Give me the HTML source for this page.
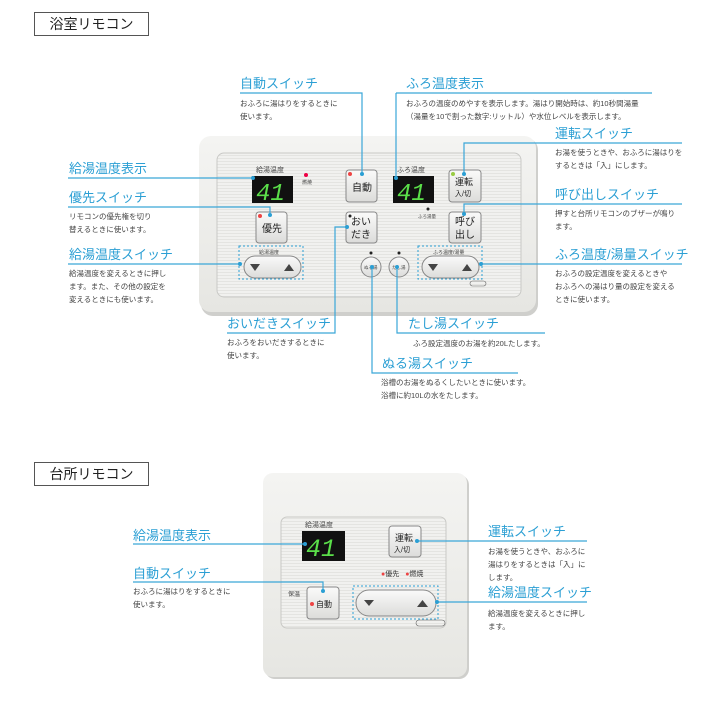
<!DOCTYPE html>
<html><head><meta charset="utf-8"><style>
body{margin:0;width:716px;height:706px;background:#fff;position:relative;overflow:hidden;font-family:"Liberation Sans","Noto Sans CJK JP",sans-serif;}
.t{position:absolute;white-space:nowrap;color:#2b9fd4;font-size:13px;line-height:14px;}
.d{position:absolute;white-space:nowrap;color:#444;font-size:7.5px;line-height:13px;}
.hb{position:absolute;border:1px solid #555;font-size:14px;line-height:22px;text-align:center;color:#222;}
</style></head><body>
<div class="hb" style="left:34px;top:12px;width:113px;height:22px;">浴室リモコン</div>
<div class="hb" style="left:34px;top:462px;width:113px;height:22px;">台所リモコン</div>

<svg width="716" height="706" style="position:absolute;left:0;top:0">
<defs>
<linearGradient id="pg" x1="0" y1="0" x2="0" y2="1"><stop offset="0" stop-color="#f4f4f2"/><stop offset="1" stop-color="#e6e6e2"/></linearGradient>
<pattern id="st" width="4" height="3" patternUnits="userSpaceOnUse"><rect width="4" height="3" fill="#f1f1ef"/><rect y="2" width="4" height="1" fill="#e4e4e1"/></pattern>
<linearGradient id="bg" x1="0" y1="0" x2="0" y2="1"><stop offset="0" stop-color="#fafafa"/><stop offset="1" stop-color="#dcdcda"/></linearGradient>
</defs>
<!-- bath panel -->
<rect x="201" y="138" width="337" height="178" rx="12" fill="#cfcfcc"/>
<rect x="199" y="136" width="337" height="176" rx="12" fill="url(#pg)"/>
<rect x="217" y="153" width="304" height="144" rx="7" fill="url(#st)" stroke="#c9c9c6"/>
<text x="256" y="172" font-size="7" fill="#444">給湯温度</text>
<rect x="252" y="176" width="41" height="27" fill="#111"/>
<text x="256" y="200" font-size="24" fill="#5be04a" font-family="Liberation Mono" font-style="italic">41</text>
<circle cx="306" cy="175" r="2" fill="#e04"/><text x="302" y="184" font-size="5" fill="#444">燃焼</text>
<text x="397" y="172" font-size="7" fill="#444">ふろ温度</text>
<rect x="393" y="176" width="41" height="27" fill="#111"/>
<text x="397" y="200" font-size="24" fill="#5be04a" font-family="Liberation Mono" font-style="italic">41</text>
<circle cx="428" cy="209" r="1.5" fill="#222"/><text x="418" y="218" font-size="4.5" fill="#444">ふろ湯量</text>
<!-- kitchen panel -->
<rect x="265" y="475" width="204" height="204" rx="10" fill="#cfcfcc"/>
<rect x="263" y="473" width="204" height="204" rx="10" fill="url(#pg)"/>
<rect x="281" y="517" width="165" height="111" rx="6" fill="url(#st)" stroke="#c9c9c6"/>
<text x="305" y="527" font-size="7" fill="#444">給湯温度</text>
<rect x="302" y="531" width="43" height="30" fill="#111"/>
<text x="306" y="556" font-size="25" fill="#5be04a" font-family="Liberation Mono" font-style="italic">41</text>
<g stroke="#888" stroke-width="1" fill="url(#bg)">
<rect x="346" y="170" width="31" height="32" rx="3"/>
<rect x="449" y="170" width="32" height="32" rx="3"/>
<rect x="256" y="212" width="31" height="31" rx="3"/>
<rect x="346" y="212" width="31" height="31" rx="3"/>
<rect x="449" y="212" width="32" height="31" rx="3"/>
<rect x="244" y="256" width="57" height="22" rx="11"/>
<rect x="422" y="256" width="57" height="22" rx="11"/>
<circle cx="371" cy="267" r="10"/><circle cx="399" cy="267" r="10"/>
<rect x="389" y="526" width="32" height="31" rx="3"/>
<rect x="307" y="587" width="32" height="32" rx="3"/>
<rect x="356" y="590" width="80" height="26" rx="13"/>
</g>
<text x="352" y="191" font-size="10" fill="#222">自動</text>
<text x="455" y="185" font-size="9" fill="#222">運転</text><text x="455" y="196" font-size="7" fill="#222">入/切</text>
<text x="262" y="232" font-size="10" fill="#222">優先</text>
<text x="351" y="225" font-size="10" fill="#222">おい</text><text x="351" y="238" font-size="10" fill="#222">だき</text>
<text x="455" y="225" font-size="10" fill="#222">呼び</text><text x="455" y="238" font-size="10" fill="#222">出し</text>
<circle cx="350" cy="174" r="2" fill="#e44"/><circle cx="453" cy="174" r="2" fill="#9c4"/><circle cx="260" cy="216" r="2" fill="#e44"/><circle cx="350" cy="216" r="1.5" fill="#222"/>
<circle cx="371" cy="253" r="1.5" fill="#222"/><circle cx="399" cy="253" r="1.5" fill="#222"/>
<text x="364" y="269" font-size="4.5" fill="#444">ぬる湯</text><text x="392" y="269" font-size="4.5" fill="#444">たし湯</text>
<rect x="239" y="246" width="64" height="33" fill="none" stroke="#2b9fd4" stroke-dasharray="2,2"/>
<rect x="418" y="246" width="64" height="33" fill="none" stroke="#2b9fd4" stroke-dasharray="2,2"/>
<text x="259" y="254" font-size="5" fill="#444">給湯温度</text><text x="433" y="254" font-size="5" fill="#444">ふろ温度/湯量</text>
<g fill="#444"><path d="M250,264h10l-5,7z"/><path d="M284,271h10l-5,-7z"/><path d="M428,264h10l-5,7z"/><path d="M462,271h10l-5,-7z"/>
<path d="M364,600h10l-5,6z"/><path d="M417,607h11l-5.5,-7z"/></g>
<rect x="470" y="281" width="16" height="5" rx="2.5" fill="none" stroke="#666" stroke-width=".6"/>
<text x="395" y="541" font-size="9" fill="#222">運転</text><text x="394" y="552" font-size="7" fill="#222">入/切</text>
<text x="381" y="576" font-size="7" fill="#333"><tspan fill="#e44">●</tspan>優先 <tspan fill="#e44" dx="4">●</tspan>燃焼</text>
<text x="288" y="596" font-size="6" fill="#444">保温</text>
<circle cx="312" cy="604" r="2" fill="#e44"/><text x="316" y="607" font-size="8" fill="#222">自動</text>
<rect x="353" y="586" width="85" height="33" fill="none" stroke="#2b9fd4" stroke-dasharray="2,2"/>
<rect x="416" y="620" width="29" height="6" rx="3" fill="none" stroke="#666" stroke-width=".6"/>
<!-- connectors -->
<g stroke="#3aa6d8" stroke-width="1.2" fill="none">
<path d="M240,93H362V174"/><path d="M396,93H652"/><path d="M396,93V178"/>
<path d="M464,174V143H682"/><path d="M464,214V204H682"/><path d="M481,264H682"/>
<path d="M68,178H253"/><path d="M68,207H270V215"/><path d="M68,264H240"/>
<path d="M227,333H335V227H347"/><path d="M397,267V333H545"/><path d="M372,267V373H518"/>
<path d="M133,544H305"/><path d="M133,582H323V591"/><path d="M417,541H587"/><path d="M437,602H587"/>
</g>
<g fill="#2b9fd4"><circle cx="362" cy="174" r="2"/><circle cx="396" cy="178" r="2"/><circle cx="464" cy="174" r="2"/><circle cx="464" cy="214" r="2"/><circle cx="481" cy="264" r="2"/><circle cx="253" cy="178" r="2"/><circle cx="270" cy="215" r="2"/><circle cx="240" cy="264" r="2"/><circle cx="347" cy="227" r="2"/><circle cx="397" cy="267" r="2"/><circle cx="372" cy="267" r="2"/><circle cx="305" cy="544" r="2"/><circle cx="323" cy="591" r="2"/><circle cx="417" cy="541" r="2"/><circle cx="437" cy="602" r="2"/></g>
</svg>

<div class="t" style="left:240px;top:77px">自動スイッチ</div>
<div class="d" style="left:240px;top:97px">おふろに湯はりをするときに<br>使います。</div>
<div class="t" style="left:406px;top:77px">ふろ温度表示</div>
<div class="d" style="left:406px;top:97px">おふろの温度のめやすを表示します。湯はり開始時は、約10秒間湯量<br>（湯量を10で割った数字:リットル）や水位レベルを表示します。</div>
<div class="t" style="left:555px;top:127px">運転スイッチ</div>
<div class="d" style="left:555px;top:146px">お湯を使うときや、おふろに湯はりを<br>するときは「入」にします。</div>
<div class="t" style="left:555px;top:188px">呼び出しスイッチ</div>
<div class="d" style="left:555px;top:207px">押すと台所リモコンのブザーが鳴り<br>ます。</div>
<div class="t" style="left:555px;top:248px">ふろ温度/湯量スイッチ</div>
<div class="d" style="left:555px;top:267px">おふろの設定温度を変えるときや<br>おふろへの湯はり量の設定を変える<br>ときに使います。</div>
<div class="t" style="left:69px;top:162px">給湯温度表示</div>
<div class="t" style="left:69px;top:191px">優先スイッチ</div>
<div class="d" style="left:69px;top:210px">リモコンの優先権を切り<br>替えるときに使います。</div>
<div class="t" style="left:69px;top:248px">給湯温度スイッチ</div>
<div class="d" style="left:69px;top:267px">給湯温度を変えるときに押し<br>ます。また、その他の設定を<br>変えるときにも使います。</div>
<div class="t" style="left:227px;top:317px">おいだきスイッチ</div>
<div class="d" style="left:227px;top:336px">おふろをおいだきするときに<br>使います。</div>
<div class="t" style="left:408px;top:317px">たし湯スイッチ</div>
<div class="d" style="left:413px;top:337px">ふろ設定温度のお湯を約20Lたします。</div>
<div class="t" style="left:382px;top:357px">ぬる湯スイッチ</div>
<div class="d" style="left:381px;top:376px">浴槽のお湯をぬるくしたいときに使います。<br>浴槽に約10Lの水をたします。</div>
<div class="t" style="left:133px;top:529px">給湯温度表示</div>
<div class="t" style="left:133px;top:567px">自動スイッチ</div>
<div class="d" style="left:133px;top:585px">おふろに湯はりをするときに<br>使います。</div>
<div class="t" style="left:488px;top:525px">運転スイッチ</div>
<div class="d" style="left:488px;top:545px">お湯を使うときや、おふろに<br>湯はりをするときは「入」に<br>します。</div>
<div class="t" style="left:488px;top:586px">給湯温度スイッチ</div>
<div class="d" style="left:488px;top:607px">給湯温度を変えるときに押し<br>ます。</div>
</body></html>
